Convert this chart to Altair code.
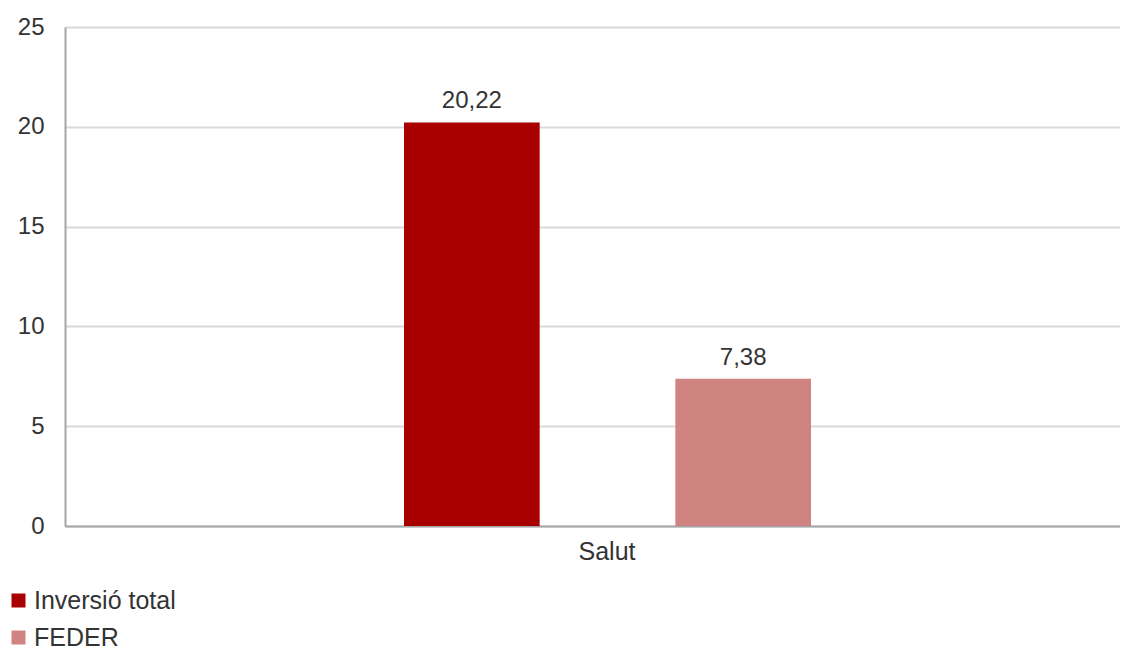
import altair as alt
import pandas as pd

categories = ["Salut", "Salut"]
series = ["Inversió total", "FEDER"]
values = [20.22, 7.38]
colors = ["#A80000", "#D08482"]

df = pd.DataFrame({"cat": categories, "serie": series, "value": values})

FONT = "Liberation Sans"
W, H = 1055, 499

base = alt.Chart(df).encode(
    x=alt.X("cat:N", title=None,
            scale=alt.Scale(range=[0, 1084], paddingInner=0, paddingOuter=0),
            axis=alt.Axis(labelAngle=0, ticks=False, labelPadding=13,
                          labelFontSize=25, labelColor="#333333", labelFont=FONT,
                          domainColor="#a6a6a6", domainWidth=2)),
    xOffset=alt.XOffset("serie:N", sort=series,
                        scale=alt.Scale(range=[339, 746], paddingInner=0.5, paddingOuter=0)),
)

bars = base.mark_bar().encode(
    y=alt.Y("value:Q", title=None,
            scale=alt.Scale(domain=[0, 25], nice=False),
            axis=alt.Axis(values=[0, 5, 10, 15, 20, 25], ticks=False, labelPadding=21,
                          labelFontSize=24, labelColor="#333333", labelFont=FONT,
                          gridColor="#d9d9d9", gridWidth=2,
                          domainColor="#a6a6a6", domainWidth=2)),
    color=alt.Color("serie:N", sort=series,
                    scale=alt.Scale(domain=series, range=colors),
                    legend=alt.Legend(title=None, orient="none", legendX=-59, legendY=561,
                                      direction="vertical", symbolType="square",
                                      symbolSize=196, symbolStrokeWidth=0,
                                      labelFontSize=25, labelFont=FONT, labelColor="#333333",
                                      labelOffset=3, rowPadding=11, padding=0)),
)

labels = base.mark_text(baseline="bottom", dy=-9, fontSize=24, font=FONT, color="#333333").transform_calculate(
    lab="replace(format(datum.value, '.2f'), '.', ',')"
).encode(
    y=alt.Y("value:Q"),
    text="lab:N",
)

chart = (bars + labels).properties(
    width=W, height=H,
    autosize=alt.AutoSizeParams(type="none"),
    padding={"left": 57, "top": 19, "right": 0, "bottom": 125},
).configure_view(stroke=None).configure(font=FONT)

chart.save("out.html", embed_options={"renderer": "svg", "actions": False})
